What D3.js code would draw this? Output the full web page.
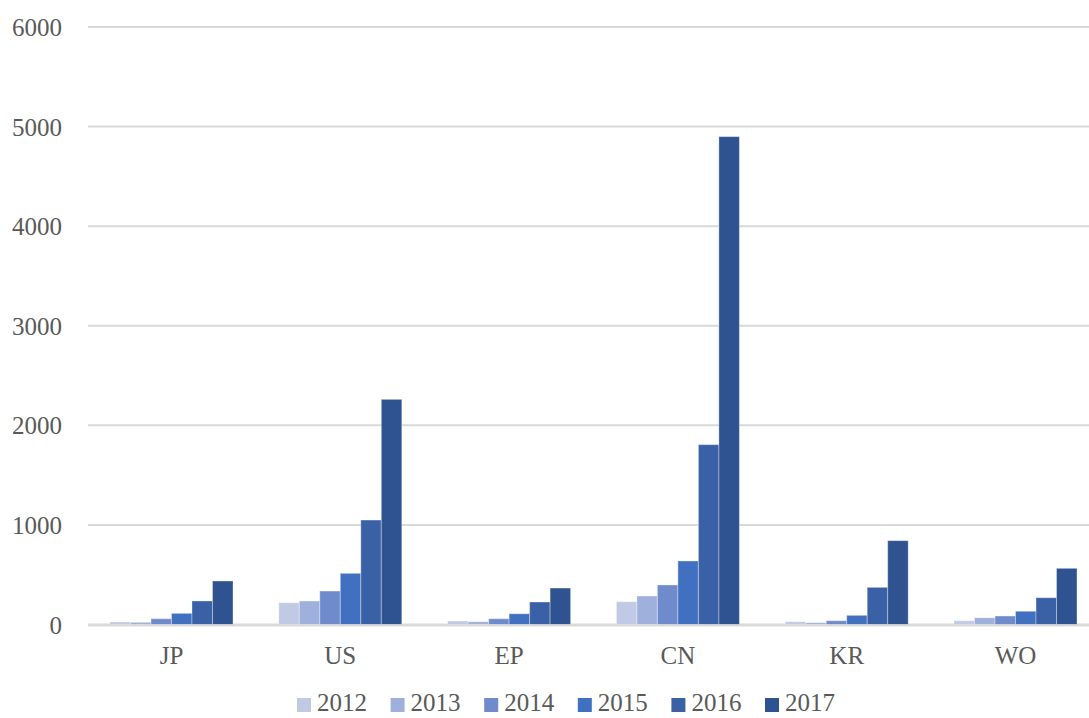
<!DOCTYPE html>
<html>
<head>
<meta charset="utf-8">
<script src="https://cdn.jsdelivr.net/npm/d3@7"></script>
<style>
  body { margin: 0; background: #fff; }
  svg { display: block; font-family: "Liberation Serif", serif; }
  .grid line { stroke: #d9d9d9; stroke-width: 2; }
  .axis text { fill: #595959; font-size: 25px; }
</style>
</head>
<body>
<svg id="chart" width="1089" height="718"></svg>
<script>
// chart data
const categories = ['JP', 'US', 'EP', 'CN', 'KR', 'WO'];
const years = ['2012', '2013', '2014', '2015', '2016', '2017'];
const values2012 = [25, 219, 35, 229, 28, 38];
const values2013 = [22, 236, 28, 286, 18, 68];
const values2014 = [58, 336, 58, 397, 38, 85];
const values2015 = [112, 514, 108, 638, 92, 133];
const values2016 = [236, 1049, 226, 1806, 373, 269];
const values2017 = [437, 2261, 366, 4899, 842, 564];
const yTicks = [0, 1000, 2000, 3000, 4000, 5000, 6000];

const series = [values2012, values2013, values2014, values2015, values2016, values2017];
const colors = ['#c0cae5', '#a0b0dc', '#6f8bcc', '#4270c0', '#3a60a6', '#2f5290'];

const svg = d3.select('#chart');
const margin = { top: 27, right: 0, bottom: 93.5, left: 88 };
const width = 1089;
const height = 718;
const innerWidth = width - margin.left - margin.right;
const innerHeight = height - margin.top - margin.bottom;

// the plot area runs past the right edge of the picture
const plotWidth = 6 * 168.8;
const xScale = d3.scaleBand().domain(categories).range([-0.9, plotWidth - 0.9]);
const groupWidth = 123;
const xInner = d3.scaleBand().domain(years).range([0, groupWidth]);
const yScale = d3.scaleLinear().domain([0, 6000]).range([innerHeight, 0]);

const grp = svg.append('g')
  .attr('transform', 'translate(' + margin.left + ',' + margin.top + ')');

// gridlines
grp.append('g')
  .attr('class', 'grid')
  .selectAll('line')
  .data(yTicks)
  .enter()
  .append('line')
  .attr('x1', 0)
  .attr('x2', innerWidth)
  .attr('y1', (d) => yScale(d))
  .attr('y2', (d) => yScale(d));

// y axis labels
const yAxis = grp.append('g')
  .attr('class', 'axis y')
  .attr('transform', 'translate(-26,0)')
  .call(d3.axisLeft(yScale).tickValues(yTicks).tickFormat(d3.format('d')).tickSize(0).tickPadding(0))
  .attr('font-family', null)
  .attr('font-size', null);
yAxis.select('.domain').remove();
yAxis.selectAll('text').attr('dy', '0.34em');

// bars
const groups = grp.selectAll('.cat')
  .data(categories)
  .enter()
  .append('g')
  .attr('class', 'cat')
  .attr('transform', (d) => 'translate(' + (xScale(d) + (xScale.bandwidth() - groupWidth) / 2) + ',0)');

groups.selectAll('rect')
  .data((d, i) => years.map((y, j) => ({ year: y, value: series[j][i], k: j })))
  .enter()
  .append('rect')
  .attr('x', (d) => xInner(d.year))
  .attr('y', (d) => yScale(d.value))
  .attr('width', xInner.bandwidth())
  .attr('height', (d) => innerHeight - yScale(d.value))
  .attr('fill', (d) => colors[d.k])
  .attr('stroke', 'rgba(255,255,255,0.35)')
  .attr('stroke-width', 1);

// baseline on top
grp.append('line')
  .attr('x1', 0)
  .attr('x2', innerWidth)
  .attr('y1', innerHeight + 1)
  .attr('y2', innerHeight + 1)
  .attr('stroke', '#d9d9d9')
  .attr('stroke-width', 2);

// x axis labels
const xAxis = grp.append('g')
  .attr('class', 'axis x')
  .attr('transform', 'translate(0,' + innerHeight + ')')
  .call(d3.axisBottom(xScale).tickSize(0).tickPadding(22))
  .attr('font-family', null)
  .attr('font-size', null);
xAxis.select('.domain').remove();

// legend (kept just inside the bottom edge)
const legend = svg.append('g')
  .attr('class', 'legend')
  .attr('transform', 'translate(297,0)');

const item = legend.selectAll('g')
  .data(years)
  .enter()
  .append('g')
  .attr('transform', (d, i) => 'translate(' + i * 93.6 + ',0)');

item.append('rect')
  .attr('x', 0)
  .attr('y', 698)
  .attr('width', 14)
  .attr('height', 14)
  .attr('fill', (d, i) => colors[i]);

item.append('text')
  .attr('x', 20)
  .attr('y', 711)
  .attr('fill', '#595959')
  .attr('font-size', '25px')
  .text((d) => d);
</script>
</body>
</html>
